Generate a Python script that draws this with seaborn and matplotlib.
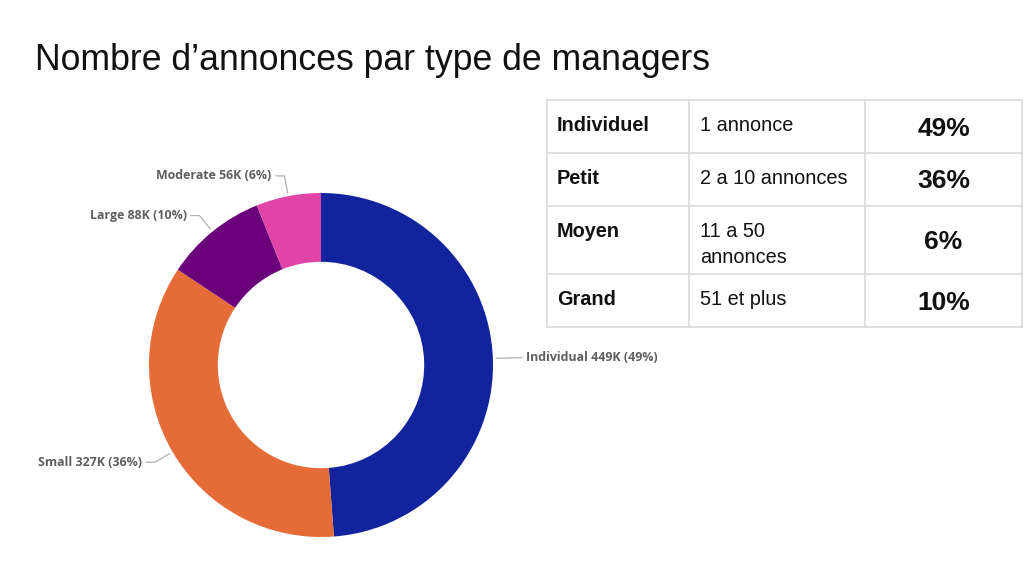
import numpy as np
import matplotlib
matplotlib.use("Agg")
import matplotlib.pyplot as plt
import seaborn as sns

# ---- data ----
categories = ["Individual", "Small", "Large", "Moderate"]
values_k = [449, 327, 88, 56]
pct_labels = ["49%", "36%", "10%", "6%"]
colors = ["#12239E", "#E66C37", "#6B007B", "#E044A7"]

table_types = ["Individuel", "Petit", "Moyen", "Grand"]
table_ranges = ["1 annonce", "2 a 10 annonces", "11 a 50\nannonces", "51 et plus"]
table_pcts = ["49%", "36%", "6%", "10%"]

title = "Nombre d\u2019annonces par type de managers"

sns.set_theme(style="white")
plt.rcParams["font.family"] = ["Liberation Sans", "DejaVu Sans"]

W, H = 1024, 576
fig = plt.figure(figsize=(W / 100, H / 100), dpi=100)
fig.patch.set_facecolor("white")

# title
fig.text(35 / W, 1 - 60 / H, title, fontsize=25.7, color="#111111",
         ha="left", va="center", family=["Liberation Sans", "DejaVu Sans"])

# ---- donut ----
cx, cy, R = 321, 365, 172
ax = fig.add_axes([(cx - R) / W, (H - cy - R) / H, 2 * R / W, 2 * R / H])
wedges, _ = ax.pie(values_k, colors=colors, startangle=90, counterclock=False,
                   radius=1.0, wedgeprops=dict(width=0.4, edgecolor="none"))
ax.set_xlim(-1, 1)
ax.set_ylim(-1, 1)
ax.set_aspect("equal")
ax.axis("off")

label_color = "#605E5C"
line_color = "#B3B0AD"
for w, cat, v, p in zip(wedges, categories, values_k, pct_labels):
    theta = np.deg2rad((w.theta1 + w.theta2) / 2)
    dx, dy = np.cos(theta), np.sin(theta)
    p1 = (1.02 * dx, 1.02 * dy)
    p2 = (1.12 * dx, 1.12 * dy)
    sign = 1 if dx >= 0 else -1
    p3 = (p2[0] + sign * 0.05, p2[1])
    ax.plot([p1[0], p2[0], p3[0]], [p1[1], p2[1], p3[1]], color=line_color,
            lw=0.9, clip_on=False)
    ax.text(p3[0] + sign * 0.025, p3[1], f"{cat} {v}K ({p})",
            ha="left" if sign > 0 else "right", va="center",
            fontsize=8.9, fontweight="bold", color=label_color,
            family=["Open Sans", "DejaVu Sans"], clip_on=False)

# ---- table ----
tx0, tx1, ty0, ty1 = 547, 1022, 100, 327
col_x = [547, 689, 865, 1022]
row_y = [100, 153, 206, 274, 327]
tax = fig.add_axes([tx0 / W, (H - ty1) / H, (tx1 - tx0) / W, (ty1 - ty0) / H])
tax.set_xlim(tx0, tx1)
tax.set_ylim(ty1, ty0)
tax.axis("off")
grid_color = "#D9D9D9"
for x in col_x:
    tax.plot([x, x], [ty0, ty1], color=grid_color, lw=1.2, clip_on=False)
for y in row_y:
    tax.plot([tx0, tx1], [y, y], color=grid_color, lw=1.2, clip_on=False)

for i, (t, r, p) in enumerate(zip(table_types, table_ranges, table_pcts)):
    top = row_y[i]
    bot = row_y[i + 1]
    tax.text(col_x[0] + 10, top + 16, t, ha="left", va="top", fontsize=14.3,
             fontweight="bold", color="#111111")
    tax.text(col_x[1] + 11, top + 16, r, ha="left", va="top", fontsize=14.3,
             color="#111111", linespacing=1.45)
    tax.text((col_x[2] + col_x[3]) / 2, (top + bot) / 2 + 2, p, ha="center",
             va="center", fontsize=19, fontweight="bold", color="#111111")

fig.savefig("out.png", dpi=100, facecolor="white")
